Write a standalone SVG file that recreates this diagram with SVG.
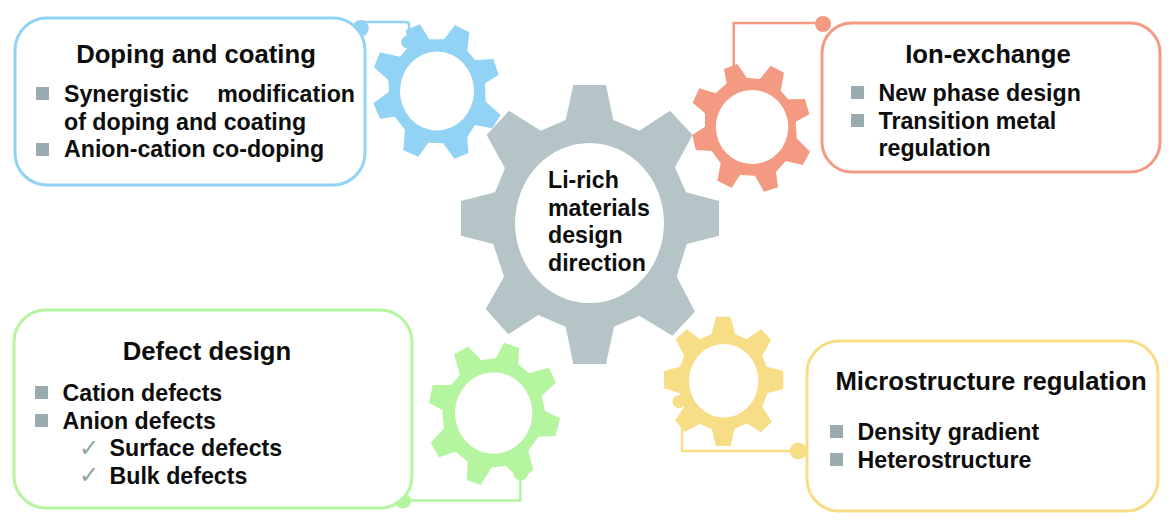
<svg xmlns="http://www.w3.org/2000/svg" width="1172" height="526" viewBox="0 0 1172 526">
<style>
text{font-family:"Liberation Sans",Arial,sans-serif;font-weight:bold;fill:#0d0d0d}
.t{font-size:25.7px;text-anchor:middle}
.b{font-size:23.2px}
.c{font-family:"DejaVu Sans",sans-serif;font-weight:normal;font-size:24px;fill:#8fa39f}
.box{fill:#fff;stroke-width:3}
.sq{fill:#9aabb0}
.ln{fill:none;stroke-width:2.500}
</style>
<defs>
<path id="s" d="M0 0h13v13h-13z"/>
</defs>
<rect width="1172" height="526" fill="#fff"/>
<g id="connectors">
<path class="ln" stroke="#92d3f5" d="M360 22H406Q409 22 409 25V38"/>
<circle cx="360.500" cy="28.300" r="8.300" fill="#92d3f5"/>
<circle cx="407.500" cy="42" r="6.300" fill="#92d3f5"/>
<path class="ln" stroke="#f49a82" d="M733.700 66V23H823"/>
<circle cx="823" cy="24" r="8" fill="#f49a82"/>
<path class="ln" stroke="#f7dd85" d="M682 420V451H798"/>
<circle cx="798.300" cy="451" r="8.500" fill="#f7dd85"/>
<circle cx="679" cy="401.700" r="6.500" fill="#f7dd85"/>
<path class="ln" stroke="#b5f5a0" d="M520.300 478V500.500H403"/>
<circle cx="403" cy="500.700" r="8" fill="#b5f5a0"/>
<circle cx="520.700" cy="473" r="7.500" fill="#b5f5a0"/>
</g>
<g id="gear-blue">
<path fill="#92d3f5" fill-rule="evenodd" d="M405.700 30L420 24.300L429.300 39.300L444 39.300L455 25L469.300 32.300L467.300 50.700L475 60L493.300 59L498.700 75L485 83.300L485.700 101.700L500.700 115L492.300 128.300L475 125L467.300 136.700L468.300 153.300L454.300 158.700L443.300 143.300L428.300 142.700L418.300 156.700L403.300 150L405 130L395 116.700L380 118.700L373.300 103.300L389 91.700L388.300 80L374 67.300L380 52.300L400 56.700L408.300 46.700ZM474 91A37 39.500 0 1 0 400 91A37 39.500 0 1 0 474 91Z"/>
</g>
<g id="gear-main">
<path fill="#b5c5c7" fill-rule="evenodd" d="M573.300 85L606 85L613.300 120L639.300 130.700L670 110.700L692.700 135L675 167.300L686 192.300L719 201L719 235.700L686.700 244L676.700 276.700L695 311.700L672.300 335.700L639.300 315.700L614 326.700L606 364L573.300 364L565.700 326.700L538.300 315L508.300 334.300L485.700 309L504 276.700L493.300 244L461 235.700L461 201L495 192.300L505 168.300L486.700 135L509 110.700L540.700 130.700L565.700 120ZM664 223A74.500 80 0 1 0 515 223A74.500 80 0 1 0 664 223Z"/>
<text class="b" x="548" y="188">Li-rich</text>
<text class="b" x="548" y="216">materials</text>
<text class="b" x="548" y="243">design</text>
<text class="b" x="548" y="271">direction</text>
</g>
<g id="gear-salmon">
<path fill="#f49a82" fill-rule="evenodd" d="M724 69L737.300 64L746.700 77.700L760 79L770.700 65.700L784 72.700L780.700 90.700L788.300 99.300L805 99L809.300 114.300L795.700 121.700L796.700 138.300L810 151.700L802.700 165L785.700 161L776 172L778 187.300L764 191.700L755 175.700L740 175L731.700 187.700L717.300 180.700L720.700 163.300L711.700 151L695.700 150L692.300 135L705 126.700L705 113.300L692.700 102.700L699.300 88.300L715.700 93.300L726.700 83.300ZM788.300 127A36.200 37 0 1 0 715.900 127A36.200 37 0 1 0 788.300 127Z"/>
</g>
<g id="gear-yellow">
<path fill="#f7dd85" fill-rule="evenodd" d="M716 316.700L730.700 316.700L735 334L746.700 339.300L761 329L771 340L762.300 356L766.700 366.700L783.300 371L783.300 389L767.300 393.300L762.300 406.700L771.700 421.700L761 432.300L746.700 423.300L734.300 429L730.700 446L716 446L711.700 429L700 424L685 431.700L675 420.700L684.300 406.700L680 393.300L664 388.300L664 371L680 366.700L684.300 356L675.700 339.300L686.700 329L700 339.300L711.700 334ZM758.400 380.800A34.700 36.800 0 1 0 689 380.800A34.700 36.800 0 1 0 758.400 380.800Z"/>
</g>
<g id="gear-green">
<path fill="#b5f5a0" fill-rule="evenodd" d="M454 354.300L468.300 346.700L481 360L495.700 358.300L504 342.700L519.300 347.700L518.300 364.300L529 373.300L549 367.700L556 382.700L541.700 395.700L545 411L560 418.300L555.700 436L538.300 436.700L528.300 450.700L533.300 470L520.500 480L506 466L491.700 467.300L480.700 485L466.700 480L467.700 461.700L455.700 451.700L439 457.300L430.700 442.700L444 428.300L442.300 410L429 402.700L432.700 385L451 385L460 375ZM532.400 413A38.700 40.800 0 1 0 455 413A38.700 40.800 0 1 0 532.400 413Z"/>
</g>
<g id="node-doping">
<rect class="box" x="15" y="18" width="350" height="167" rx="32" stroke="#92d3f5"/>
<text class="t" x="196" y="63">Doping and coating</text>
<use href="#s" x="36" y="87" class="sq"/>
<use href="#s" x="36" y="143" class="sq"/>
<text class="b" x="64" y="102">Synergistic</text>
<text class="b" x="355" y="102" text-anchor="end">modification</text>
<text class="b" x="64" y="130">of doping and coating</text>
<text class="b" x="64" y="157">Anion-cation co-doping</text>
</g>
<g id="node-ion">
<rect class="box" x="822" y="23" width="338" height="149" rx="30" stroke="#f49a82"/>
<text class="t" x="988" y="63">Ion-exchange</text>
<use href="#s" x="851" y="86" class="sq"/>
<use href="#s" x="851" y="114" class="sq"/>
<text class="b" x="878.500" y="101">New phase design</text>
<text class="b" x="878.500" y="129">Transition metal</text>
<text class="b" x="878.500" y="156">regulation</text>
</g>
<g id="node-defect">
<rect class="box" x="14" y="310" width="398" height="198" rx="32" stroke="#b5f5a0"/>
<text class="t" x="207" y="360">Defect design</text>
<use href="#s" x="35" y="386" class="sq"/>
<use href="#s" x="35" y="414" class="sq"/>
<text class="b" x="62.500" y="401">Cation defects</text>
<text class="b" x="62.500" y="429">Anion defects</text>
<text class="c" x="79" y="456">✓</text>
<text class="c" x="79" y="483">✓</text>
<text class="b" x="109.500" y="456">Surface defects</text>
<text class="b" x="109.500" y="484">Bulk defects</text>
</g>
<g id="node-micro">
<rect class="box" x="807" y="341" width="351" height="170" rx="32" stroke="#f7dd85"/>
<text class="t" x="991" y="390">Microstructure regulation</text>
<use href="#s" x="830" y="425" class="sq"/>
<use href="#s" x="830" y="453" class="sq"/>
<text class="b" x="857.500" y="440">Density gradient</text>
<text class="b" x="857.500" y="468">Heterostructure</text>
</g>
</svg>
